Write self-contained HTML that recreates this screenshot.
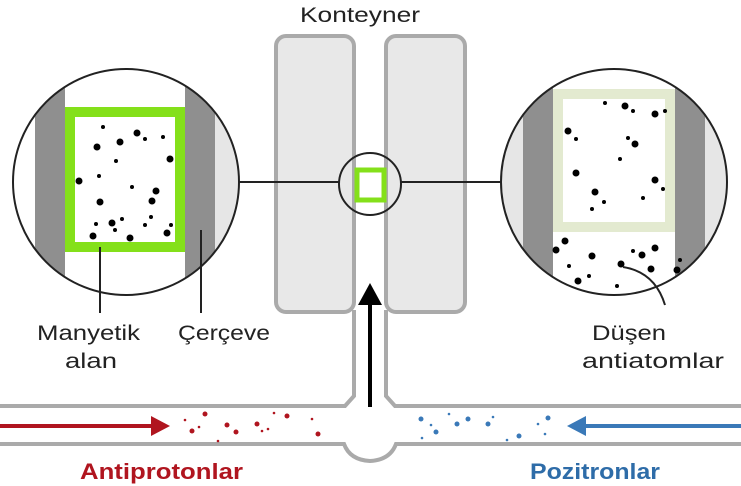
<!DOCTYPE html>
<html><head><meta charset="utf-8"><style>
html,body{margin:0;padding:0;background:#fff;}
svg{display:block;font-family:"Liberation Sans",sans-serif;}
</style></head><body>
<svg width="741" height="486" viewBox="0 0 741 486" xmlns="http://www.w3.org/2000/svg">
<defs>
<clipPath id="cl"><circle cx="126" cy="182" r="113"/></clipPath>
<clipPath id="cr"><circle cx="614" cy="182" r="113"/></clipPath>
</defs>
<text x="300" y="22" font-size="21" fill="#222" textLength="120" lengthAdjust="spacingAndGlyphs">Konteyner</text>
<!-- container blocks -->
<rect x="276" y="36" width="78" height="276" rx="10" fill="#e8e8e8" stroke="#aaa" stroke-width="4"/>
<rect x="386" y="36" width="79" height="276" rx="10" fill="#e8e8e8" stroke="#aaa" stroke-width="4"/>
<!-- shaft -->
<path d="M354 310 V396 L345 406 H0 M386 310 V396 L395 406 H741" fill="none" stroke="#aaa" stroke-width="4"/>
<path d="M0 444 H344 Q350 460 370 461 Q390 460 396 444 H741" fill="none" stroke="#aaa" stroke-width="4"/>
<!-- connector lines -->
<line x1="239" y1="182" x2="340" y2="182" stroke="#222" stroke-width="2"/>
<line x1="400" y1="182" x2="501" y2="182" stroke="#222" stroke-width="2"/>
<circle cx="370" cy="184" r="31" fill="none" stroke="#222" stroke-width="2"/>
<rect x="357" y="170" width="27" height="30" fill="#fff" stroke="#84e01a" stroke-width="5"/>
<!-- left circle -->
<g clip-path="url(#cl)">
<rect x="0" y="60" width="260" height="250" fill="#fff"/>
<rect x="35" y="60" width="30" height="250" fill="#8f8f8f"/>
<rect x="185" y="60" width="30" height="250" fill="#8f8f8f"/>
<rect x="215" y="60" width="30" height="250" fill="#e6e6e6"/>
<rect x="70" y="112" width="110" height="135" fill="#fff" stroke="#84e01a" stroke-width="10"/>
<g fill="#000">
<circle cx="103" cy="127" r="2"/><circle cx="137" cy="133" r="3.5"/><circle cx="145" cy="139" r="2"/><circle cx="163" cy="137" r="2"/>
<circle cx="97" cy="147" r="3.5"/><circle cx="120" cy="142" r="3.5"/><circle cx="170" cy="159" r="3.5"/><circle cx="116" cy="161" r="2"/>
<circle cx="79" cy="181" r="3.5"/><circle cx="99" cy="176" r="2"/><circle cx="132" cy="187" r="2"/><circle cx="156" cy="191" r="3.5"/>
<circle cx="100" cy="202" r="3.5"/><circle cx="152" cy="201" r="3.5"/><circle cx="151" cy="217" r="2"/><circle cx="96" cy="224" r="2"/>
<circle cx="112" cy="223" r="3.5"/><circle cx="122" cy="219" r="2"/><circle cx="115" cy="230" r="2"/><circle cx="145" cy="225" r="2"/>
<circle cx="171" cy="225" r="2"/><circle cx="93" cy="236" r="3.5"/><circle cx="130" cy="238" r="3.5"/><circle cx="167" cy="233" r="3.5"/>
</g>
</g>
<circle cx="126" cy="182" r="113" fill="none" stroke="#222" stroke-width="2"/>
<line x1="100" y1="247" x2="100" y2="313" stroke="#222" stroke-width="2"/>
<line x1="201" y1="230" x2="201" y2="313" stroke="#222" stroke-width="2"/>
<!-- right circle -->
<g clip-path="url(#cr)">
<rect x="490" y="60" width="260" height="250" fill="#e6e6e6"/>
<rect x="523" y="60" width="30" height="250" fill="#8f8f8f"/>
<rect x="553" y="60" width="122" height="250" fill="#fff"/>
<rect x="675" y="60" width="30" height="250" fill="#8f8f8f"/>
<rect x="558" y="94" width="112" height="133" fill="#fff" stroke="#e3ead0" stroke-width="10"/>
<g fill="#000">
<circle cx="605" cy="103" r="2"/><circle cx="625" cy="106" r="3.5"/><circle cx="633" cy="111" r="2"/><circle cx="655" cy="114" r="3.5"/><circle cx="665" cy="111" r="2"/>
<circle cx="568" cy="131" r="3.5"/><circle cx="576" cy="139" r="2"/><circle cx="628" cy="138" r="2"/><circle cx="635" cy="144" r="3.5"/>
<circle cx="620" cy="159" r="2"/><circle cx="576" cy="173" r="3.5"/><circle cx="655" cy="180" r="3.5"/><circle cx="663" cy="189" r="2"/>
<circle cx="595" cy="192" r="3.5"/><circle cx="604" cy="202" r="2"/><circle cx="643" cy="198" r="2"/><circle cx="592" cy="209" r="2"/>
<circle cx="565" cy="241" r="3.5"/><circle cx="556" cy="250" r="3.5"/><circle cx="592" cy="256" r="3.5"/><circle cx="633" cy="251" r="2"/><circle cx="642" cy="255" r="3.5"/><circle cx="655" cy="248" r="3.5"/>
<circle cx="569" cy="266" r="2"/><circle cx="621" cy="264" r="3.5"/><circle cx="651" cy="269" r="3.5"/><circle cx="680" cy="260" r="2"/><circle cx="677" cy="270" r="3.5"/>
<circle cx="578" cy="281" r="3.5"/><circle cx="589" cy="276" r="2"/><circle cx="617" cy="286" r="2"/>
</g>
</g>
<circle cx="614" cy="182" r="113" fill="none" stroke="#222" stroke-width="2"/>
<path d="M623 267 Q655 272 665 305" fill="none" stroke="#222" stroke-width="2"/>
<!-- labels -->
<g font-size="21" fill="#222" lengthAdjust="spacingAndGlyphs">
<text x="37" y="340" textLength="103" lengthAdjust="spacingAndGlyphs">Manyetik</text>
<text x="65" y="368" textLength="52" lengthAdjust="spacingAndGlyphs">alan</text>
<text x="178" y="340" textLength="92" lengthAdjust="spacingAndGlyphs">Çerçeve</text>
<text x="592" y="340" textLength="74" lengthAdjust="spacingAndGlyphs">Düşen</text>
<text x="582" y="368" textLength="142" lengthAdjust="spacingAndGlyphs">antiatomlar</text>
</g>
<!-- up arrow -->
<line x1="370" y1="407" x2="370" y2="300" stroke="#000" stroke-width="4"/>
<polygon points="370,283 358,305 382,305" fill="#000"/>
<!-- red arrow -->
<line x1="0" y1="426" x2="155" y2="426" stroke="#b0151f" stroke-width="4"/>
<polygon points="170,426 151,416 151,436" fill="#b0151f"/>
<g fill="#b0151f">
<circle cx="185" cy="420" r="1.3"/><circle cx="205" cy="414" r="2.5"/><circle cx="192" cy="431" r="2.5"/><circle cx="199" cy="427" r="1.3"/><circle cx="218" cy="441" r="1.3"/>
<circle cx="227" cy="425" r="2.5"/><circle cx="236" cy="432" r="2.5"/><circle cx="257" cy="424" r="2.5"/><circle cx="262" cy="431" r="1.3"/>
<circle cx="274" cy="413" r="1.3"/><circle cx="287" cy="416" r="2.5"/><circle cx="268" cy="429" r="1.3"/><circle cx="312" cy="419" r="1.3"/><circle cx="318" cy="434" r="2.5"/>
</g>
<!-- blue arrow -->
<line x1="741" y1="426" x2="582" y2="426" stroke="#3a79b8" stroke-width="4"/>
<polygon points="567,426 586,416 586,436" fill="#3a79b8"/>
<g fill="#3a79b8">
<circle cx="422" cy="438" r="1.3"/><circle cx="421" cy="419" r="2.5"/><circle cx="436" cy="432" r="2.5"/><circle cx="431" cy="425" r="1.3"/>
<circle cx="449" cy="414" r="1.3"/><circle cx="457" cy="424" r="2.5"/><circle cx="468" cy="419" r="2.5"/>
<circle cx="488" cy="424" r="2.5"/><circle cx="493" cy="417" r="1.3"/><circle cx="507" cy="440" r="1.3"/><circle cx="519" cy="436" r="2.5"/>
<circle cx="538" cy="424" r="1.3"/><circle cx="548" cy="418" r="2.5"/><circle cx="545" cy="434" r="1.3"/>
</g>
<text x="80" y="479" font-size="22" font-weight="bold" fill="#b0151f" textLength="163" lengthAdjust="spacingAndGlyphs">Antiprotonlar</text>
<text x="530" y="479" font-size="22" font-weight="bold" fill="#2e6ca8" textLength="130" lengthAdjust="spacingAndGlyphs">Pozitronlar</text>
</svg>
</body></html>
